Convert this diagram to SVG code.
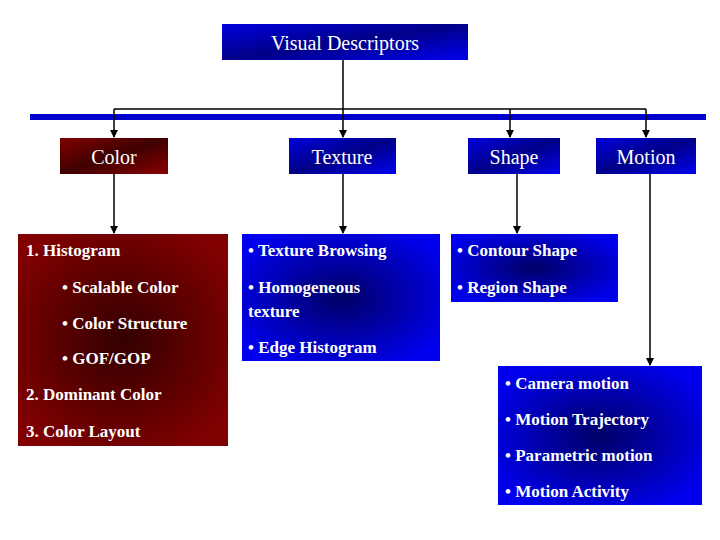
<svg xmlns="http://www.w3.org/2000/svg" width="720" height="540" viewBox="0 0 720 540">
<defs>
<radialGradient id="gb" cx="0.5" cy="0.5" r="0.6"><stop offset="0" stop-color="#000066"/><stop offset="1" stop-color="#0000ee"/></radialGradient>
<radialGradient id="gr" cx="0.5" cy="0.5" r="0.6"><stop offset="0" stop-color="#330000"/><stop offset="1" stop-color="#800000"/></radialGradient>
<linearGradient id="lb" x1="0" y1="0" x2="1" y2="1"><stop offset="0" stop-color="#0000dd"/><stop offset="0.5" stop-color="#000088"/><stop offset="1" stop-color="#0000ee"/></linearGradient>
<linearGradient id="lr" x1="0" y1="0" x2="1" y2="1"><stop offset="0" stop-color="#800000"/><stop offset="0.5" stop-color="#400000"/><stop offset="1" stop-color="#880000"/></linearGradient>
<marker id="ah" markerWidth="8" markerHeight="8" refX="7" refY="4" orient="auto" markerUnits="userSpaceOnUse"><path d="M0,0 L8,4 L0,8 z" fill="#000"/></marker>
<style>
.h{font-family:"Liberation Serif",serif;font-size:20px;fill:#fff;text-anchor:middle}
.t{font-family:"Liberation Serif",serif;font-size:17px;font-weight:bold;fill:#fff}
.c{stroke:#000;stroke-width:1.5;fill:none}
</style>
</defs>
<rect x="30" y="114" width="676" height="6" fill="#0000cc"/>
<g id="connectors">
<path class="c" d="M343,60 V109 M114,109 H646"/>
<path class="c" d="M114,109 V137" marker-end="url(#ah)"/>
<path class="c" d="M343,109 V137" marker-end="url(#ah)"/>
<path class="c" d="M510,109 V137" marker-end="url(#ah)"/>
<path class="c" d="M646,109 V137" marker-end="url(#ah)"/>
<path class="c" d="M114,174 V233" marker-end="url(#ah)"/>
<path class="c" d="M343,174 V233" marker-end="url(#ah)"/>
<path class="c" d="M517,174 V233" marker-end="url(#ah)"/>
<path class="c" d="M650,174 V365" marker-end="url(#ah)"/>
</g>
<g id="visual"><rect x="222" y="24" width="246" height="36" fill="url(#lb)"/><text class="h" x="345" y="50">Visual Descriptors</text></g>
<g id="color"><rect x="60" y="138" width="108" height="36" fill="url(#lr)"/><text class="h" x="114" y="164">Color</text></g>
<g id="texture"><rect x="289" y="138" width="107" height="36" fill="url(#lb)"/><text class="h" x="342" y="164">Texture</text></g>
<g id="shape"><rect x="468" y="138" width="92" height="36" fill="url(#lb)"/><text class="h" x="514" y="164">Shape</text></g>
<g id="motion"><rect x="596" y="138" width="100" height="36" fill="url(#lb)"/><text class="h" x="646" y="164">Motion</text></g>
<g id="color-list"><rect x="18" y="234" width="210" height="212" fill="url(#gr)"/>
<text class="t" x="26" y="256">1. Histogram</text>
<text class="t" x="62" y="293">• Scalable Color</text>
<text class="t" x="62" y="329">• Color Structure</text>
<text class="t" x="62" y="364">• GOF/GOP</text>
<text class="t" x="26" y="400">2. Dominant Color</text>
<text class="t" x="26" y="437">3. Color Layout</text></g>
<g id="texture-list"><rect x="242" y="234" width="198" height="127" fill="url(#gb)"/>
<text class="t" x="248" y="256">• Texture Browsing</text>
<text class="t" x="248" y="293">• Homogeneous</text>
<text class="t" x="248" y="317">texture</text>
<text class="t" x="248" y="353">• Edge Histogram</text></g>
<g id="shape-list"><rect x="451" y="234" width="167" height="68" fill="url(#gb)"/>
<text class="t" x="457" y="256">• Contour Shape</text>
<text class="t" x="457" y="293">• Region Shape</text></g>
<g id="motion-list"><rect x="498" y="366" width="204" height="139" fill="url(#gb)"/>
<text class="t" x="505" y="389">• Camera motion</text>
<text class="t" x="505" y="425">• Motion Trajectory</text>
<text class="t" x="505" y="461">• Parametric motion</text>
<text class="t" x="505" y="497">• Motion Activity</text></g>
</svg>
